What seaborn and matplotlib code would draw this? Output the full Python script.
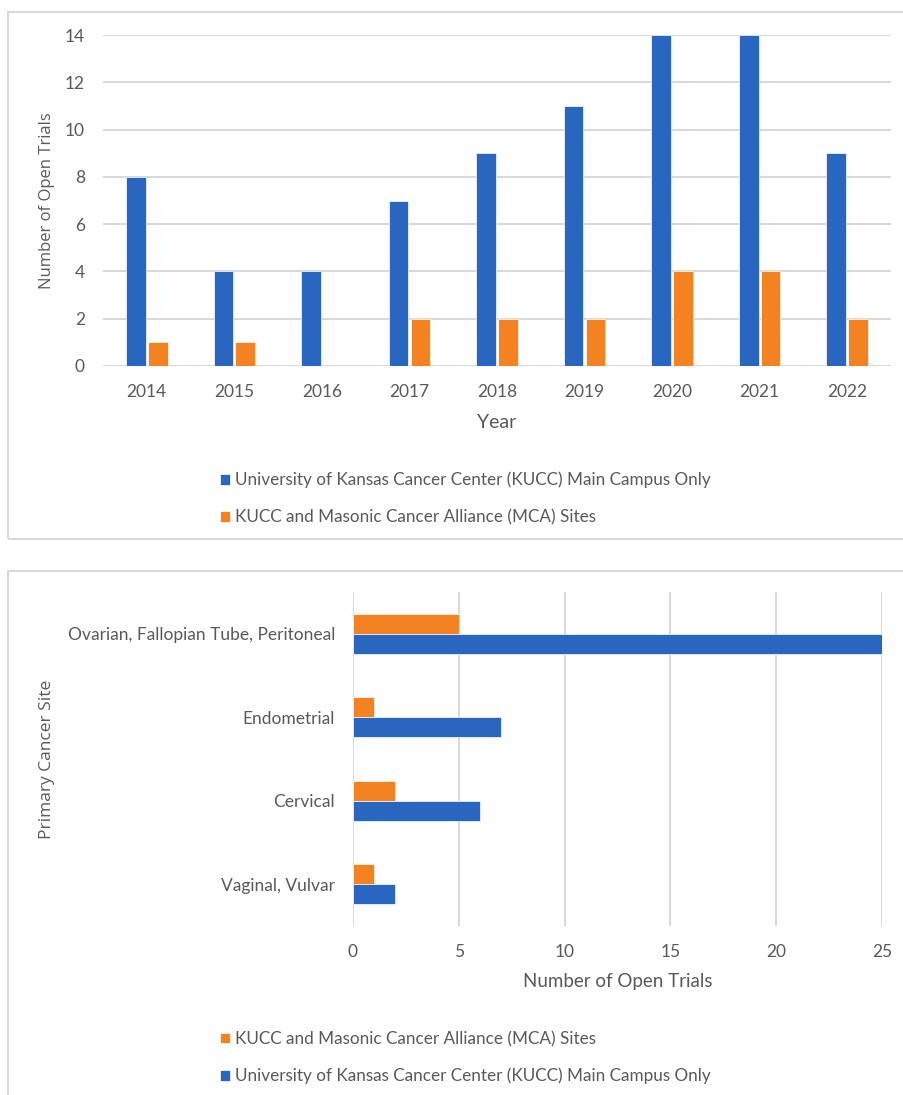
import pandas as pd
import matplotlib.pyplot as plt
import seaborn as sns
from matplotlib.patches import Rectangle

# Datos del gráfico superior
years = ['2014', '2015', '2016', '2017', '2018', '2019', '2020', '2021', '2022']
kucc_by_year = [8, 4, 4, 7, 9, 11, 14, 14, 9]
mca_by_year = [1, 1, 0, 2, 2, 2, 4, 4, 2]

# Datos del gráfico inferior
sites = ['Ovarian, Fallopian Tube, Peritoneal', 'Endometrial', 'Cervical', 'Vaginal, Vulvar']
kucc_by_site = [25, 7, 6, 2]
mca_by_site = [5, 1, 2, 1]

kucc_label = 'University of Kansas Cancer Center (KUCC) Main Campus Only'
mca_label = 'KUCC and Masonic Cancer Alliance (MCA) Sites'

blue = '#2966C0'
orange = '#F58220'
gray_text = '#595959'
grid_color = '#D9D9D9'

sns.set_style('white')
plt.rcParams['font.family'] = ['Lato', 'DejaVu Sans']
plt.rcParams['text.color'] = gray_text
plt.rcParams['xtick.color'] = gray_text
plt.rcParams['ytick.color'] = gray_text

W, H = 904, 1095
fig = plt.figure(figsize=(W / 100, H / 100), dpi=100)


def fx(px):
    return px / W


def fy(py):
    return 1 - py / H


# Marcos de los paneles
fig.patches.append(Rectangle((fx(8), fy(539)), fx(960), fy(12) - fy(539), transform=fig.transFigure,
                             fill=False, edgecolor='#D9D9D9', linewidth=1.5))
fig.patches.append(Rectangle((fx(8), fy(1200)), fx(960), fy(571) - fy(1200), transform=fig.transFigure,
                             fill=False, edgecolor='#D9D9D9', linewidth=1.5))

tick_size = 12.5
legend_kw = dict(title=None, frameon=False, fontsize=12.3, handlelength=0.6, handleheight=0.6,
                 handletextpad=0.3, labelspacing=1.22, borderaxespad=0)

# ---- Gráfico superior ----
df_year = pd.DataFrame({
    'Year': years * 2,
    'Trials': kucc_by_year + mca_by_year,
    'Series': [kucc_label] * len(years) + [mca_label] * len(years),
})

ax1 = fig.add_axes([fx(103), fy(366), fx(891) - fx(103), fy(35) - fy(366)])
sns.barplot(data=df_year, x='Year', y='Trials', hue='Series', hue_order=[kucc_label, mca_label],
            palette=[blue, orange], saturation=1, width=0.5, gap=0.1, ax=ax1,
            edgecolor='white', linewidth=0.5)
ax1.set_ylim(0, 14)
ax1.set_yticks(range(0, 15, 2))
ax1.yaxis.grid(True, color=grid_color, linewidth=1.5)
ax1.set_axisbelow(True)
sns.despine(ax=ax1, left=True, bottom=True)
ax1.tick_params(axis='both', length=0, labelsize=tick_size)
ax1.tick_params(axis='x', pad=13)
ax1.tick_params(axis='y', pad=13)
ax1.set_xlabel('Year', fontsize=14, color=gray_text)
ax1.xaxis.label.set_va('center')
ax1.xaxis.set_label_coords(0.5, (366 - 423) / 331)
ax1.set_ylabel('Number of Open Trials', fontsize=12, color=gray_text, family=['Open Sans', 'DejaVu Sans'])
ax1.yaxis.label.set_va('center')
ax1.yaxis.set_label_coords((47 - 103) / 788, 0.5)
sns.move_legend(ax1, 'upper left', bbox_to_anchor=(fx(213), fy(465)), bbox_transform=fig.transFigure,
                **legend_kw)

# ---- Gráfico inferior ----
df_site = pd.DataFrame({
    'Site': sites * 2,
    'Trials': mca_by_site + kucc_by_site,
    'Series': [mca_label] * len(sites) + [kucc_label] * len(sites),
})

ax2 = fig.add_axes([fx(353), fy(926), fx(882) - fx(353), fy(592) - fy(926)])
sns.barplot(data=df_site, y='Site', x='Trials', hue='Series', hue_order=[mca_label, kucc_label],
            palette=[orange, blue], saturation=1, width=0.48, orient='h', ax=ax2,
            edgecolor='white', linewidth=0.5)
ax2.set_xlim(0, 25)
ax2.set_xticks(range(0, 26, 5))
ax2.xaxis.grid(True, color=grid_color, linewidth=1.5)
ax2.set_axisbelow(True)
sns.despine(ax=ax2, left=True, bottom=True)
ax2.tick_params(axis='both', length=0, labelsize=tick_size)
ax2.tick_params(axis='x', pad=13)
ax2.tick_params(axis='y', pad=13)
ax2.set_xlabel('Number of Open Trials', fontsize=13.5, color=gray_text)
ax2.xaxis.label.set_va('center')
ax2.xaxis.set_label_coords(0.5, (926 - 981) / 334)
ax2.set_ylabel('Primary Cancer Site', fontsize=12.5, color=gray_text, family=['Open Sans', 'DejaVu Sans'])
ax2.yaxis.label.set_va('center')
ax2.yaxis.set_label_coords((47 - 353) / 529, 0.5)
sns.move_legend(ax2, 'upper left', bbox_to_anchor=(fx(213), fy(1024)), bbox_transform=fig.transFigure,
                **legend_kw)

fig.savefig('out.png', dpi=100, facecolor='white')
